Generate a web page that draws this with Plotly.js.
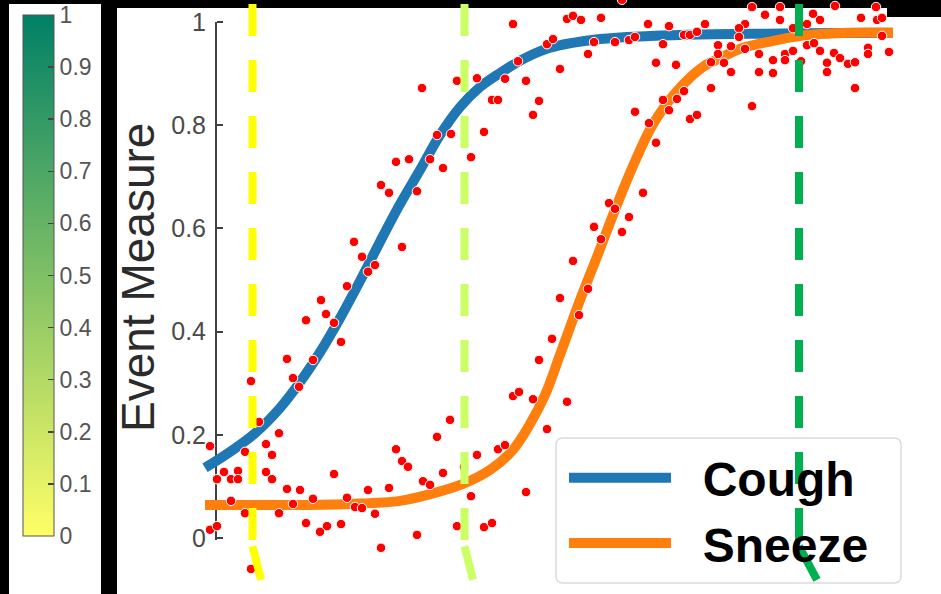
<!DOCTYPE html>
<html>
<head>
<meta charset="utf-8">
<script src="https://cdn.plot.ly/plotly-3.0.1.min.js"></script>
<style>
  html, body { margin: 0; padding: 0; background: #000; }
  #chart { width: 941px; height: 594px; }
</style>
</head>
<body>
<div id="chart"></div>
<script>
// Observed event measurements (x: time index, y: event measure)
const eventX = [
  0.5, 5.4, 7.4, 4.0, 6.1, 6.7, 1.9, 1.2, 2.6, 3.3, 3.3, 6.1, 6.7, 2.6, 4.0, 7.4, 8.2, 9.5, 8.8, 10.8,
  10.1, 12.2, 11.5, 12.9, 13.6, 14.2, 15.0, 15.7, 16.3, 17.0, 17.6, 18.4, 19.1, 19.7, 20.3, 0.5, 1.2, 4.6,
  30.8, 31.4, 32.8, 36.2, 34.2, 24.5, 23.2, 21.8, 22.5, 23.8, 25.9, 27.2, 29.3, 30.0, 26.6, 32.1, 25.2, 27.9, 28.7, 21.2,
  4.6, 8.2, 10.8, 8.8, 9.4, 10.1, 11.6, 12.1, 12.9, 13.6, 14.2, 14.9, 15.7, 16.3, 17.0, 19.7, 17.6, 18.4, 21.2, 19.1,
  20.4, 22.5, 23.8, 26.6, 23.2, 24.6, 27.9,
  41.7, 30.8, 36.2, 36.8, 37.6, 39.6, 44.3, 46.4, 34.2, 34.8, 38.9, 41.0, 42.4, 43.0, 47.9, 48.5, 49.2, 45.8, 38.3, 45.1,
  47.1, 31.3, 35.5, 25.2, 27.2, 30.0, 32.1, 21.7, 28.7, 29.3, 33.4, 32.8, 43.0, 45.8, 47.2, 47.9, 46.4, 48.5, 49.2, 44.4,
  45.1, 43.8, 50.6, 50.6, 40.4, 41.0, 42.4, 41.7, 38.9, 39.6, 36.8, 38.3, 37.4, 35.5, 34.7, 33.4,
  54.7, 57.5, 63.0, 67.1, 56.0, 57.5, 60.8, 61.5, 65.6, 67.2, 67.7, 50.0, 54.0, 53.4, 53.4, 58.8, 60.2, 67.7, 51.3, 52.6,
  54.0, 60.2, 60.9, 61.5, 66.3, 66.3, 68.4, 51.3, 51.9, 55.4, 56.8, 58.0, 58.0, 58.8, 59.6, 62.9, 63.5, 62.2, 64.3, 65.0,
  52.6, 55.4, 56.8, 62.2, 65.0, 54.7
];
const eventY = [
  0.178, 0.225, 0.203, 0.167, 0.182, 0.161, 0.128, 0.114, 0.114, 0.130, 0.114, 0.128, 0.114, 0.072, 0.048, 0.048, 0.095, 0.093, 0.066, 0.076,
  0.029, 0.023, 0.012, 0.124, 0.027, 0.078, 0.060, 0.058, 0.093, 0.047, -0.019, 0.097, 0.172, 0.149, 0.138, 0.016, 0.023, -0.060,
  0.275, 0.283, 0.269, 0.264, 0.211, 0.229, 0.196, 0.110, 0.103, 0.126, 0.138, 0.161, 0.172, 0.180, 0.081, 0.089, 0.023, 0.021, 0.029, 0.006,
  0.304, 0.347, 0.345, 0.310, 0.293, 0.422, 0.461, 0.434, 0.417, 0.380, 0.488, 0.574, 0.545, 0.516, 0.529, 0.564, 0.684, 0.669, 0.672, 0.729,
  0.734, 0.734, 0.717, 0.738, 0.781, 0.783, 0.787,
  1.043, 0.996, 1.006, 1.012, 1.004, 1.008, 0.996, 0.992, 0.957, 0.967, 0.961, 0.961, 0.965, 0.971, 0.975, 0.975, 0.981, 0.957, 0.938, 0.921,
  0.917, 0.924, 0.909, 0.886, 0.891, 0.890, 0.886, 0.872, 0.849, 0.849, 0.847, 0.820, 0.826, 0.849, 0.851, 0.866, 0.829, 0.812, 0.820, 0.804,
  0.766, 0.669, 0.922, 0.872, 0.649, 0.638, 0.622, 0.593, 0.603, 0.579, 0.537, 0.483, 0.432, 0.465, 0.386, 0.345,
  1.029, 1.029, 1.031, 1.029, 1.014, 1.004, 1.016, 1.004, 1.008, 1.004, 1.008, 0.996, 0.996, 0.988, 0.971, 0.988, 0.996, 0.973, 0.955, 0.953,
  0.948, 0.955, 0.959, 0.944, 0.950, 0.938, 0.942, 0.938, 0.921, 0.938, 0.926, 0.938, 0.926, 0.944, 0.924, 0.940, 0.930, 0.921, 0.919, 0.922,
  0.903, 0.903, 0.901, 0.903, 0.872, 0.837
];

// Fitted response curves
const coughX = [0, 2.5, 5, 7.5, 9.5, 11.5, 13.5, 15.5, 17.5, 19.5, 21.5, 23.5, 25.5, 27.5, 29.5, 32, 34.5, 39.5, 44.5, 49.5, 54.5, 59.5, 68.8];
const coughY = [0.136, 0.167, 0.203, 0.252, 0.302, 0.360, 0.426, 0.498, 0.574, 0.647, 0.713, 0.781, 0.835, 0.874, 0.901, 0.930, 0.950, 0.967, 0.973, 0.976, 0.977, 0.978, 0.979];
const sneezeX = [0, 4.5, 9.5, 14.5, 19.5, 22.5, 25.8, 28.5, 30.8, 32.5, 34, 35.5, 37.5, 39.2, 41, 42.8, 44.8, 47.2, 49.8, 51.5, 53.8, 56.2, 59.5, 64.5, 68.8];
const sneezeY = [0.064, 0.064, 0.064, 0.066, 0.072, 0.085, 0.105, 0.132, 0.171, 0.221, 0.277, 0.355, 0.461, 0.545, 0.636, 0.721, 0.802, 0.866, 0.913, 0.930, 0.950, 0.961, 0.973, 0.979, 0.979];

// Threshold markers (time index, colour-scale level colours)
const thresholdX = [4.75, 25.95, 59.4];
const thresholdTop = 1.035;
const thresholdFoot = -0.016;
const thresholdTailX = [5.6, 26.8, 61.2];
const thresholdTailY = -0.081;
const thresholdColors = ['#ffff00', '#ccff66', '#00b050'];

// Axis ticks
const yTicks = [0, 0.2, 0.4, 0.6, 0.8, 1];
const scaleTicks = [0, 0.1, 0.2, 0.3, 0.4, 0.5, 0.6, 0.7, 0.8, 0.9, 1];

const W = 941, H = 594;
const FONT = 'Liberation Sans, Arial, Helvetica, sans-serif';
const px = v => v / W;
const py = v => 1 - v / H;

const traces = [];

// colour scale reference
traces.push({
  type: 'scatter', mode: 'markers', x: [null], y: [null],
  showlegend: false, hoverinfo: 'skip',
  marker: {
    color: [0], cmin: 0, cmax: 1, showscale: true,
    colorscale: [[0, '#ffff66'], [1, '#008066']],
    colorbar: {
      x: px(23), xanchor: 'left', y: py(275.5), yanchor: 'middle',
      thickness: 31, thicknessmode: 'pixels', len: 521, lenmode: 'pixels',
      xpad: 0, ypad: 0, outlinewidth: 1, outlinecolor: '#555555',
      bgcolor: 'rgba(0,0,0,0)', borderwidth: 0,
      ticks: 'inside', ticklen: 6, tickwidth: 1.5, tickcolor: '#444444',
      tickvals: scaleTicks, ticklabelstandoff: 2,
      tickfont: { family: FONT, size: 23, color: '#555555' }
    }
  }
});

traces.push({
  type: 'scatter', mode: 'lines', name: '\u00a0\u00a0Cough',
  x: coughX, y: coughY, line: { color: '#1f77b4', width: 10, shape: 'spline', smoothing: 1 },
  hoverinfo: 'skip'
});
traces.push({
  type: 'scatter', mode: 'lines', name: '\u00a0\u00a0Sneeze',
  x: sneezeX, y: sneezeY, line: { color: '#ff7f0e', width: 10, shape: 'spline', smoothing: 1 },
  hoverinfo: 'skip'
});

traces.push({
  type: 'scatter', mode: 'markers', x: eventX, y: eventY, showlegend: false, hoverinfo: 'skip',
  marker: { color: '#ff0000', size: 9.5, line: { color: '#ffffff', width: 1 } }
});

thresholdX.forEach((x, i) => {
  traces.push({
    type: 'scatter', mode: 'lines', x: [x, x], y: [thresholdTop, thresholdFoot],
    showlegend: false, hoverinfo: 'skip',
    line: { color: thresholdColors[i], width: 8, dash: '32px,24px' }
  });
  traces.push({
    type: 'scatter', mode: 'lines', x: [x, thresholdTailX[i]], y: [thresholdFoot, thresholdTailY],
    showlegend: false, hoverinfo: 'skip',
    line: { color: thresholdColors[i], width: 8 }
  });
});

// rounded legend frame
const lx0 = px(556), lx1 = px(901), ly0 = py(583), ly1 = py(438);
const rx = px(7), ry = 7 / H;
const legendFrame = `M${lx0 + rx},${ly1} L${lx1 - rx},${ly1} Q${lx1},${ly1} ${lx1},${ly1 - ry} ` +
  `L${lx1},${ly0 + ry} Q${lx1},${ly0} ${lx1 - rx},${ly0} L${lx0 + rx},${ly0} Q${lx0},${ly0} ${lx0},${ly0 + ry} ` +
  `L${lx0},${ly1 - ry} Q${lx0},${ly1} ${lx0 + rx},${ly1} Z`;

const layout = {
  width: W, height: H,
  margin: { l: 0, r: 0, t: 0, b: 0, pad: 0 },
  paper_bgcolor: '#000000', plot_bgcolor: 'rgba(0,0,0,0)',
  showlegend: true,
  xaxis: { range: [-20.5, 73.6], visible: false, fixedrange: true },
  yaxis: {
    range: [-56 / 516, 1 + 22 / 516], anchor: 'free', position: px(216),
    showgrid: false, zeroline: false, showline: false,
    ticks: 'inside', ticklen: 6, tickwidth: 2, tickcolor: '#404040',
    tickvals: yTicks, ticklabelstandoff: 10,
    tickfont: { family: FONT, size: 25, color: '#4a4a4a' }, fixedrange: true
  },
  legend: {
    x: px(564), xanchor: 'left', y: py(440), yanchor: 'top',
    bgcolor: 'rgba(0,0,0,0)', borderwidth: 0, itemwidth: 102,
    font: { family: FONT, size: 48, color: '#000000', weight: 'bold' }
  },
  shapes: [
    { type: 'rect', xref: 'paper', yref: 'paper', x0: px(9), x1: px(101), y0: 0, y1: py(4),
      fillcolor: '#ffffff', line: { width: 0 }, layer: 'below' },
    { type: 'rect', xref: 'paper', yref: 'paper', x0: px(117), x1: 1, y0: 0, y1: py(8),
      fillcolor: '#ffffff', line: { width: 0 }, layer: 'below' },
    { type: 'rect', xref: 'paper', yref: 'paper', x0: px(887), x1: 1, y0: py(17), y1: py(8),
      fillcolor: '#000000', line: { width: 0 }, layer: 'below' },
    { type: 'path', xref: 'paper', yref: 'paper', path: legendFrame,
      fillcolor: '#ffffff', line: { color: '#dcdcdc', width: 1.5 }, layer: 'below' },
    { type: 'line', xref: 'paper', yref: 'y', x0: px(216), x1: px(216), y0: -0.004, y1: 1,
      line: { color: '#404040', width: 2 }, layer: 'below' }
  ],
  annotations: [
    { text: 'Event Measure', xref: 'paper', yref: 'paper', x: px(138), y: py(278),
      xanchor: 'center', yanchor: 'middle', showarrow: false, textangle: -90,
      font: { family: FONT, size: 46, color: '#2b2b2b' } }
  ]
};

Plotly.newPlot('chart', traces, layout, { displayModeBar: false, staticPlot: true });
</script>
</body>
</html>
